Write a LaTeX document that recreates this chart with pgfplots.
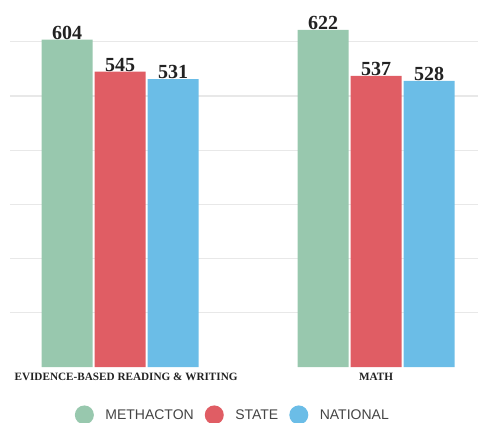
\documentclass[border=0pt]{standalone}
\usepackage{fontspec}
\setmainfont{Liberation Serif}
\newfontfamily\legfont{Liberation Sans}
\usepackage{pgfplots}
\pgfplotsset{compat=1.18}
\definecolor{cGreen}{HTML}{98C8AE}
\definecolor{cRed}{HTML}{E05D64}
\definecolor{cBlue}{HTML}{6BBDE7}
\definecolor{cGrid}{HTML}{E8E8E8}
\definecolor{cText}{HTML}{222222}
\definecolor{cLeg}{HTML}{444444}
\begin{document}
\begin{tikzpicture}
\path[use as bounding box] (-10bp,-56bp) rectangle (468bp,367bp);
\begin{axis}[
  at={(0,0)}, anchor=south west,
  scale only axis,
  width=468bp, height=357.7bp,
  xmin=-0.43, xmax=1.398,
  ymin=0, ymax=660,
  ybar=2bp, bar width=51bp,
  axis line style={draw=none},
  ytick={100,200,300,400,500,600},
  yticklabels={},
  ymajorgrids,
  grid style={cGrid, line width=1.2bp},
  major tick length=0pt,
  xtick={0,1},
  xticklabels={\hspace{12bp}EVIDENCE-BASED READING \& WRITING, MATH},
  xticklabel style={font=\bfseries\fontsize{11.2bp}{12bp}\selectfont, text=cText, inner sep=0pt, yshift=-5.5bp},
  nodes near coords={\pgfmathprintnumber[assume math mode=true]{\pgfplotspointmeta}},
  every node near coord/.append style={font=\bfseries\fontsize{20bp}{22bp}\selectfont, text=cText, anchor=base, inner sep=0pt, yshift=0.5bp},
  legend columns=3,
  legend style={draw=none, fill=none, at={(0.474,-0.134)}, anchor=center,
    font=\legfont\fontsize{14bp}{16bp}\selectfont, text=cLeg,
    column sep=0bp,
    nodes={inner sep=0pt},
    /tikz/every odd column/.append style={column sep=11.5bp},
    /tikz/every even column/.append style={column sep=11bp}},
  legend image code/.code={\fill[#1,draw=none] (9.5bp,0bp) circle (9.5bp);},
]
\addplot[fill=cGreen, draw=none] coordinates {(0,604) (1,622)};
\addplot[fill=cRed, draw=none] coordinates {(0,545) (1,537)};
\addplot[fill=cBlue, draw=none] coordinates {(0,531) (1,528)};
\legend{METHACTON, STATE, NATIONAL}
\end{axis}
\end{tikzpicture}
\end{document}
